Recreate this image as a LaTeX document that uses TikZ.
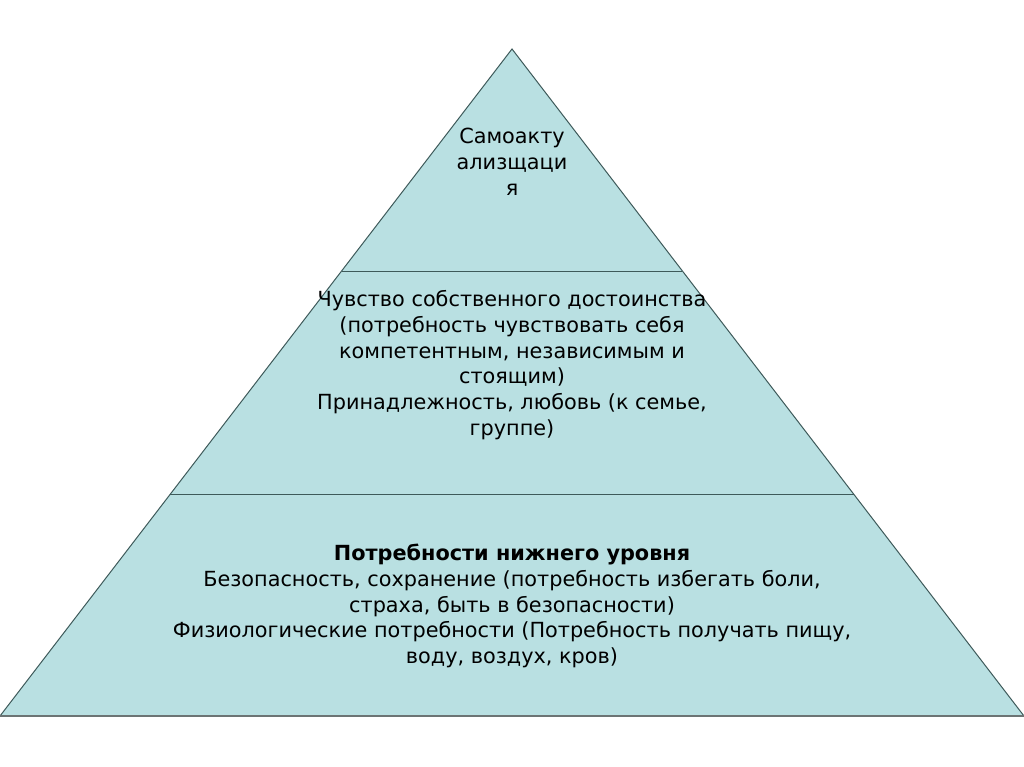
\documentclass[tikz,border=0pt]{standalone}
\usepackage{fontspec}
\setmainfont{DejaVu Sans}
\usepackage{xcolor}
\usetikzlibrary{positioning}

\definecolor{levelfill}{HTML}{B9E0E2}
\definecolor{levelline}{HTML}{3E5A5A}

\begin{document}
\begin{tikzpicture}[
    x=1pt, y=-1pt,
    divider/.style={
        draw=levelline,
        line width=1pt
    },
    label/.style={
        align=center,
        inner sep=0pt,
        font=\fontsize{20.8}{25.8}\selectfont
    }
]

% Frame
\useasboundingbox (0,0) rectangle (1024,767);

% Corners
\coordinate (apex) at (512,49);
\coordinate (left) at (0,716);
\coordinate (right) at (1024,716);

\coordinate (topL) at (342,271);
\coordinate (topR) at (682,271);
\coordinate (midL) at (170,494);
\coordinate (midR) at (854,494);

% Pyramid
\fill[levelfill] (apex) -- (right) -- (left) -- cycle;
\draw[levelline, line width=1pt] (left) -- (apex) -- (right);
\draw[draw=gray!70!levelline, line width=1.4pt] (left) -- (right);

\draw[divider] (topL) -- (topR);
\draw[divider] (midL) -- (midR);

% Level texts
\node[label] (self) at (512,162) {
    Самоакту\\
    ализщаци\\
    я
};

\node[label] (esteem) at (512,365) {
    Чувство собственного достоинства\\
    (потребность чувствовать себя\\
    компетентным, независимым и\\
    стоящим)\\
    Принадлежность, любовь (к семье,\\
    группе)
};

\node[label] (lower) at (512,606) {
    \textbf{Потребности нижнего уровня}\\
    Безопасность, сохранение (потребность избегать боли,\\
    страха, быть в безопасности)\\
    Физиологические потребности (Потребность получать пищу,\\
    воду, воздух, кров)
};

\end{tikzpicture}
\end{document}
